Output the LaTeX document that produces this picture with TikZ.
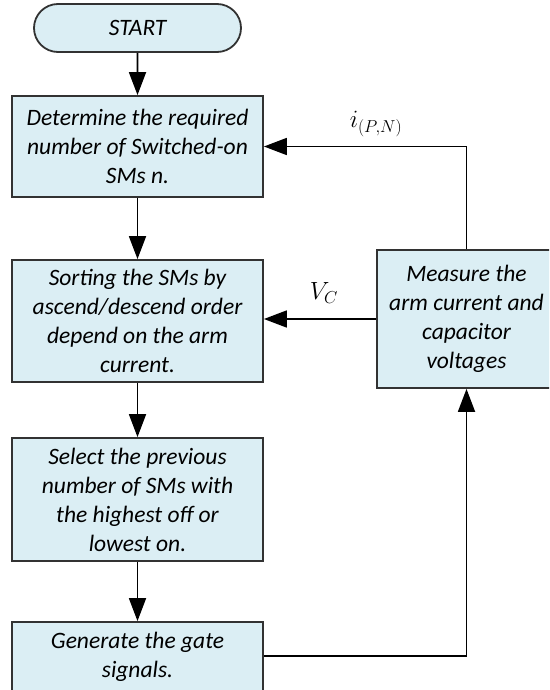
\documentclass[tikz,border=0pt]{standalone}
\usepackage{fontspec}
\setmainfont{Carlito}
\usetikzlibrary{arrows.meta,shapes.misc}
\definecolor{boxfill}{RGB}{219,238,244}
\definecolor{boxline}{RGB}{50,50,50}
\tikzset{
  procbox/.style={draw=boxline, line width=1.8pt, fill=boxfill, rectangle,
    align=center, inner sep=0pt,
    font=\fontsize{23.5}{29}\selectfont\itshape},
  termbox/.style={procbox, rounded rectangle},
  flow/.style={line width=1.8pt, -{Triangle[length=23pt,width=17pt]}},
  sig/.style={font=\fontsize{23}{28}\selectfont}
}
\begin{document}
\begin{tikzpicture}[x=1pt,y=-1pt]
\useasboundingbox (0,0) rectangle (549,690);
\clip (0,0) rectangle (549,690);

\node[termbox, minimum width=207pt, minimum height=48pt] (start) at (137.5,28) {START};
\node[procbox, minimum width=251pt, minimum height=101pt] (det) at (137.5,146.5)
  {Determine the required\\number of Switched-on\\SMs n.};
\node[procbox, minimum width=251pt, minimum height=122pt] (sort) at (137.5,321)
  {Sorting the SMs by\\ascend/descend order\\depend on the arm\\current.};
\node[procbox, minimum width=251pt, minimum height=123pt] (sel) at (137.5,499.5)
  {Select the previous\\number of SMs with\\the highest off or\\lowest on.};
\node[procbox, minimum width=251pt, minimum height=70pt] (gen) at (137.5,657)
  {Generate the gate\\signals.};
\node[procbox, minimum width=179pt, minimum height=138pt] (meas) at (466.5,319)
  {Measure the\\arm current and\\capacitor\\voltages};

\draw[flow] (start) -- (det);
\draw[flow] (det) -- (sort);
\draw[flow] (sort) -- (sel);
\draw[flow] (sel) -- (gen);
\draw[flow] (gen.east |- 0,656) -| (meas.south);
\draw[flow] (meas.north) |- (det.east);
\draw[flow] (meas.west) -- (meas.west -| sort.east);

\node[sig] (ilab) at (376,124) {$i_{(P,N)}$};
\node[sig] (vlab) at (324,293) {$V_C$};
\end{tikzpicture}
\end{document}
